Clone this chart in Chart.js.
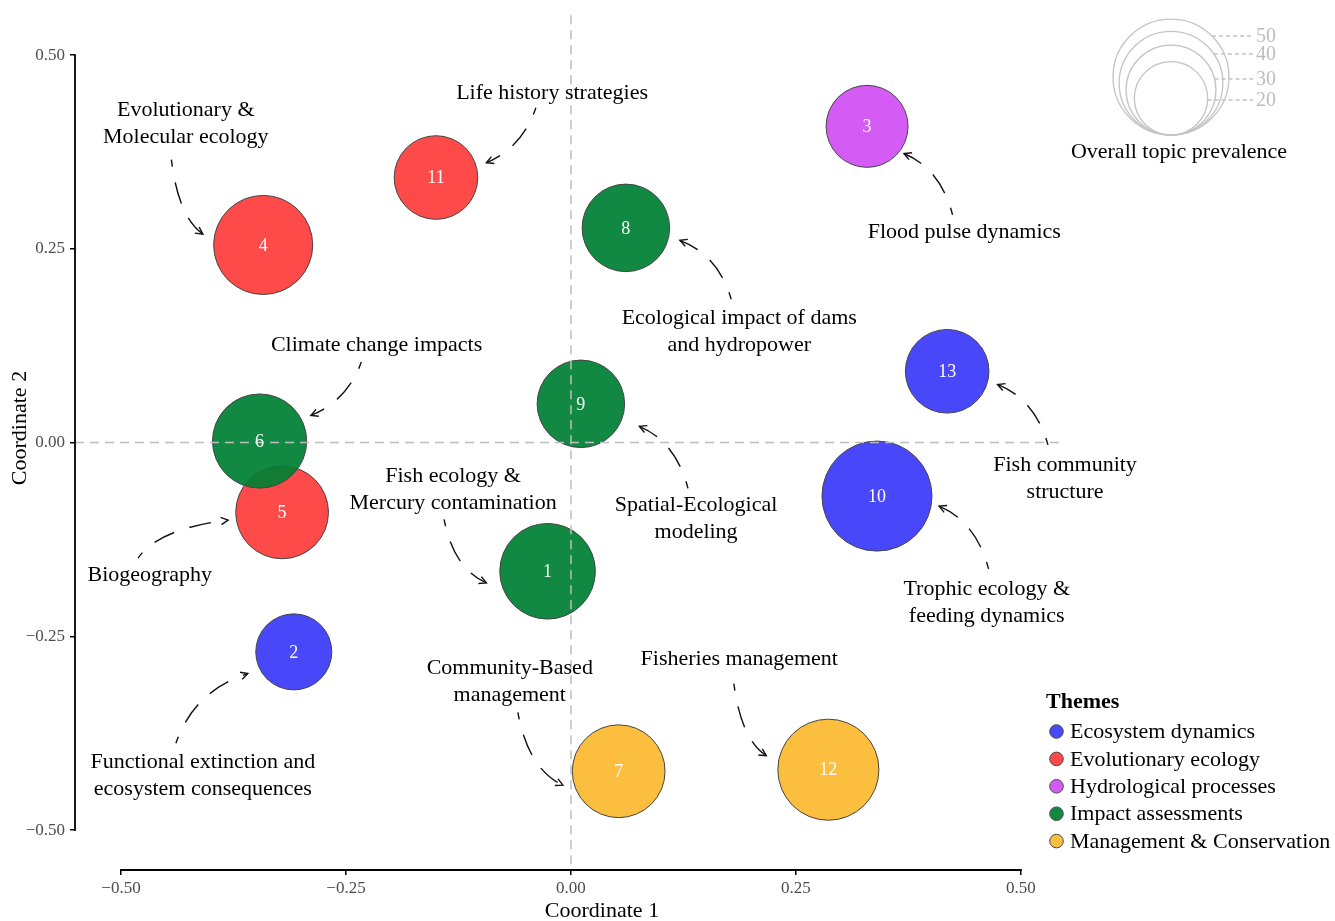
<!DOCTYPE html>
<html>
<head>
<meta charset="utf-8">
<title>Topic map</title>
<script src="https://cdn.jsdelivr.net/npm/chart.js@4.4.1/dist/chart.umd.min.js"></script>
<style>
  html, body { margin: 0; padding: 0; background: #fff; }
  #wrap { width: 1335px; height: 921px; }
</style>
</head>
<body>
<div id="wrap"><canvas id="topicChart" width="1335" height="921"></canvas></div>
<script>
// Topic positions on the two ordination axes and their prevalence
const topicIds   = [1, 2, 3, 4, 5, 6, 7, 8, 9, 10, 11, 12, 13];
const coord1     = [-0.026, -0.308, 0.329, -0.342, -0.321, -0.346, 0.053, 0.061, 0.011, 0.340, -0.150, 0.286, 0.418];
const coord2     = [-0.166, -0.270, 0.408, 0.255, -0.090, 0.002, -0.424, 0.277, 0.050, -0.069, 0.342, -0.422, 0.092];
const prevalence = [34, 21.5, 25, 36.5, 32, 33, 32, 28.5, 28.5, 45, 26, 38, 26];
const topicTheme = [
    'Impact assessments', 'Ecosystem dynamics', 'Hydrological processes', 'Evolutionary ecology',
    'Evolutionary ecology', 'Impact assessments', 'Management & Conservation', 'Impact assessments',
    'Impact assessments', 'Ecosystem dynamics', 'Evolutionary ecology', 'Management & Conservation',
    'Ecosystem dynamics'
];

const themeNames = ['Ecosystem dynamics', 'Evolutionary ecology', 'Hydrological processes', 'Impact assessments', 'Management & Conservation'];
const axisTicks = [-0.5, -0.25, 0, 0.25, 0.5];
const sizeBreaks = [50, 40, 30, 20];

const themeColors = {
    'Ecosystem dynamics': 'rgba(40, 40, 249, 0.85)',
    'Evolutionary ecology': 'rgba(255, 42, 42, 0.85)',
    'Hydrological processes': 'rgba(205, 63, 243, 0.85)',
    'Impact assessments': 'rgba(0, 128, 52, 0.93)',
    'Management & Conservation': 'rgba(251, 179, 28, 0.85)'
};

const SERIF = '"Liberation Serif", "DejaVu Serif", serif';
const RADIUS_PER_SQRT = 8.2;   // bubble radius (px) per sqrt(prevalence)
const bubbleRadius = v => RADIUS_PER_SQRT * Math.sqrt(v);

// Topic labels with curved leader arrows (data units): text centre, arrow start, arrow end
const topicLabels = [
    { lines: ['Evolutionary &', 'Molecular ecology'], at: [-0.428, 0.412], from: [-0.444, 0.365], to: [-0.409, 0.269], bend: 0.55 },
    { lines: ['Life history strategies'], at: [-0.021, 0.451], from: [-0.039, 0.432], to: [-0.094, 0.361], bend: 0.45 },
    { lines: ['Flood pulse dynamics'], at: [0.437, 0.271], from: [0.424, 0.294], to: [0.370, 0.373], bend: 0.5 },
    { lines: ['Ecological impact of dams', 'and hydropower'], at: [0.187, 0.143], from: [0.178, 0.185], to: [0.121, 0.261], bend: 0.5 },
    { lines: ['Climate change impacts'], at: [-0.216, 0.126], from: [-0.233, 0.104], to: [-0.289, 0.035], bend: 0.45 },
    { lines: ['Fish community', 'structure'], at: [0.549, -0.046], from: [0.530, -0.003], to: [0.474, 0.075], bend: 0.5 },
    { lines: ['Spatial-Ecological', 'modeling'], at: [0.139, -0.098], from: [0.130, -0.059], to: [0.076, 0.021], bend: 0.5 },
    { lines: ['Fish ecology &', 'Mercury contamination'], at: [-0.131, -0.061], from: [-0.141, -0.099], to: [-0.094, -0.181], bend: 0.55 },
    { lines: ['Biogeography'], at: [-0.468, -0.171], from: [-0.481, -0.149], to: [-0.381, -0.100], bend: 0.55 },
    { lines: ['Trophic ecology &', 'feeding dynamics'], at: [0.462, -0.206], from: [0.464, -0.163], to: [0.409, -0.082], bend: 0.5 },
    { lines: ['Functional extinction and', 'ecosystem consequences'], at: [-0.409, -0.430], from: [-0.439, -0.388], to: [-0.359, -0.298], bend: 0.5 },
    { lines: ['Community-Based', 'management'], at: [-0.068, -0.308], from: [-0.059, -0.348], to: [-0.009, -0.442], bend: 0.55 },
    { lines: ['Fisheries management'], at: [0.187, -0.279], from: [0.181, -0.311], to: [0.217, -0.404], bend: 0.55 }
];

// bubble controller that does not reserve extra padding for the bubble radii
class TopicBubbleController extends Chart.BubbleController {
    getMaxOverflow() { return 0; }
}
TopicBubbleController.id = 'topicBubble';
TopicBubbleController.defaults = Chart.BubbleController.defaults;
TopicBubbleController.overrides = Chart.BubbleController.overrides;
Chart.register(TopicBubbleController);

function fmtTick(v) {
    const s = Math.abs(v).toFixed(2);
    return v < 0 ? '\u2212' + s : s;
}

function drawCurvedArrow(ctx, sx, sy, ex, ey, bend) {
    // control point pulled toward the corner (sx, ey) so the line leaves the label vertically
    const mx = (sx + ex) / 2, my = (sy + ey) / 2;
    const cx = mx + (sx - mx) * bend;
    const cy = my + (ey - my) * bend;
    ctx.save();
    ctx.strokeStyle = '#111';
    ctx.lineWidth = 1.4;
    ctx.setLineDash([22, 16]);
    ctx.lineDashOffset = 15;
    ctx.beginPath();
    ctx.moveTo(sx, sy);
    ctx.quadraticCurveTo(cx, cy, ex, ey);
    ctx.stroke();

    // open arrow head
    ctx.setLineDash([]);
    const ang = Math.atan2(ey - cy, ex - cx);
    const len = 8, spread = Math.PI / 6.5;
    ctx.beginPath();
    ctx.moveTo(ex - len * Math.cos(ang - spread), ey - len * Math.sin(ang - spread));
    ctx.lineTo(ex, ey);
    ctx.lineTo(ex - len * Math.cos(ang + spread), ey - len * Math.sin(ang + spread));
    ctx.stroke();
    ctx.restore();
}

const decorPlugin = {
    id: 'decor',
    afterDatasetsDraw(chart) {
        const ctx = chart.ctx;
        const area = chart.chartArea;
        const xs = chart.scales.x, ys = chart.scales.y;

        // dashed zero lines
        ctx.save();
        ctx.strokeStyle = '#bdbdbd';
        ctx.lineWidth = 1.5;
        ctx.setLineDash([9, 6]);
        ctx.beginPath();
        ctx.moveTo(xs.getPixelForValue(0), area.top);
        ctx.lineTo(xs.getPixelForValue(0), area.bottom);
        ctx.moveTo(area.left, ys.getPixelForValue(0));
        ctx.lineTo(area.right, ys.getPixelForValue(0));
        ctx.stroke();
        ctx.restore();

        // topic numbers inside the bubbles
        const meta = chart.getDatasetMeta(0);
        ctx.save();
        ctx.fillStyle = '#fff';
        ctx.font = '18px ' + SERIF;
        ctx.textAlign = 'center';
        ctx.textBaseline = 'middle';
        meta.data.forEach((el, i) => ctx.fillText(String(topicIds[i]), el.x, el.y + 1));
        ctx.restore();

        // capped axis lines, only over the break range
        ctx.save();
        ctx.strokeStyle = '#000';
        ctx.lineWidth = 1.8;
        ctx.beginPath();
        ctx.moveTo(xs.getPixelForValue(axisTicks[0]) - 0.9, area.bottom);
        ctx.lineTo(xs.getPixelForValue(axisTicks[axisTicks.length - 1]) + 0.9, area.bottom);
        ctx.moveTo(area.left, ys.getPixelForValue(axisTicks[0]) + 0.9);
        ctx.lineTo(area.left, ys.getPixelForValue(axisTicks[axisTicks.length - 1]) - 0.9);
        ctx.stroke();
        ctx.restore();

        // axis titles
        ctx.save();
        ctx.fillStyle = '#000';
        ctx.font = '22px ' + SERIF;
        ctx.textAlign = 'center';
        ctx.textBaseline = 'middle';
        ctx.fillText('Coordinate 1', 602, 911);
        ctx.translate(20, 428);
        ctx.rotate(-Math.PI / 2);
        ctx.fillText('Coordinate 2', 0, 0);
        ctx.restore();

        // topic labels and arrows
        ctx.save();
        ctx.fillStyle = '#000';
        ctx.font = '22px ' + SERIF;
        ctx.textAlign = 'center';
        ctx.textBaseline = 'middle';
        topicLabels.forEach(lab => {
            const tx = xs.getPixelForValue(lab.at[0]);
            const ty = ys.getPixelForValue(lab.at[1]);
            lab.lines.forEach((line, k) => {
                ctx.fillText(line, tx, ty + (k - (lab.lines.length - 1) / 2) * 27);
            });
            drawCurvedArrow(ctx,
                xs.getPixelForValue(lab.from[0]), ys.getPixelForValue(lab.from[1]),
                xs.getPixelForValue(lab.to[0]), ys.getPixelForValue(lab.to[1]), lab.bend);
        });
        ctx.restore();

        drawSizeLegend(ctx);
        drawThemeLegend(ctx);
    }
};

function drawSizeLegend(ctx) {
    const cx = 1171, bottom = 135;
    const leaderRise = [99, 81, 56, 35];   // leader height above the circle bottoms
    ctx.save();
    ctx.strokeStyle = '#c4c4c4';
    ctx.lineWidth = 1.3;
    sizeBreaks.forEach(v => {
        const r = bubbleRadius(v);
        ctx.beginPath();
        ctx.arc(cx, bottom - r, r, 0, Math.PI * 2);
        ctx.stroke();
    });
    ctx.fillStyle = '#bdbdbd';
    ctx.font = '20px ' + SERIF;
    ctx.textAlign = 'left';
    ctx.textBaseline = 'middle';
    sizeBreaks.forEach((v, i) => {
        const r = bubbleRadius(v);
        const cy = bottom - r;
        const y = bottom - leaderRise[i];
        const x0 = cx + Math.sqrt(Math.max(0, r * r - (y - cy) * (y - cy)));
        ctx.setLineDash([4, 3]);
        ctx.beginPath();
        ctx.moveTo(x0, y);
        ctx.lineTo(1253, y);
        ctx.stroke();
        ctx.setLineDash([]);
        ctx.fillText(String(v), 1256, y + 1);
    });
    ctx.fillStyle = '#000';
    ctx.font = '22px ' + SERIF;
    ctx.textAlign = 'center';
    ctx.fillText('Overall topic prevalence', 1179, 152);
    ctx.restore();
}

function drawThemeLegend(ctx) {
    ctx.save();
    ctx.fillStyle = '#000';
    ctx.font = 'bold 22px ' + SERIF;
    ctx.textAlign = 'left';
    ctx.textBaseline = 'middle';
    ctx.fillText('Themes', 1046, 702);
    ctx.font = '22px ' + SERIF;
    themeNames.forEach((name, i) => {
        const y = 731.5 + i * 27.4;
        ctx.beginPath();
        ctx.arc(1056.5, y, 6.8, 0, Math.PI * 2);
        ctx.fillStyle = themeColors[name];
        ctx.fill();
        ctx.strokeStyle = '#4a4a4a';
        ctx.lineWidth = 1;
        ctx.stroke();
        ctx.fillStyle = '#000';
        ctx.fillText(name, 1070, y + 1);
    });
    ctx.restore();
}

const tickFont = { family: SERIF, size: 17 };

const topicPoints = topicIds.map((id, i) => ({ x: coord1[i], y: coord2[i], r: bubbleRadius(prevalence[i]) }));

new Chart(document.getElementById('topicChart').getContext('2d'), {
    type: 'topicBubble',
    data: {
        datasets: [{
            label: 'Topics',
            data: topicPoints,
            backgroundColor: topicTheme.map(t => themeColors[t]),
            borderColor: '#444',
            borderWidth: 1,
            hoverRadius: 0,
            clip: false
        }]
    },
    options: {
        responsive: false,
        animation: false,
        events: [],
        layout: { padding: { top: 12, right: 273, bottom: 0, left: 0 } },
        plugins: { legend: { display: false }, tooltip: { enabled: false } },
        scales: {
            x: {
                type: 'linear',
                min: -0.5511,
                max: 0.5456,
                afterFit: s => { s.height = 51; },
                afterBuildTicks: s => { s.ticks = axisTicks.map(v => ({ value: v })); },
                border: { display: false },
                grid: { display: true, drawOnChartArea: false, drawTicks: true, tickLength: 5, color: '#000', lineWidth: 1.5 },
                ticks: { callback: fmtTick, font: tickFont, color: '#4d4d4d', padding: 3, maxRotation: 0, autoSkip: false }
            },
            y: {
                type: 'linear',
                min: -0.5514,
                max: 0.5514,
                afterFit: s => { s.width = 75; },
                afterBuildTicks: s => { s.ticks = axisTicks.map(v => ({ value: v })); },
                border: { display: false },
                grid: { display: true, drawOnChartArea: false, drawTicks: true, tickLength: 5, color: '#000', lineWidth: 1.5 },
                ticks: { callback: fmtTick, font: tickFont, color: '#4d4d4d', padding: 5, autoSkip: false }
            }
        }
    },
    plugins: [decorPlugin]
});
</script>
</body>
</html>
